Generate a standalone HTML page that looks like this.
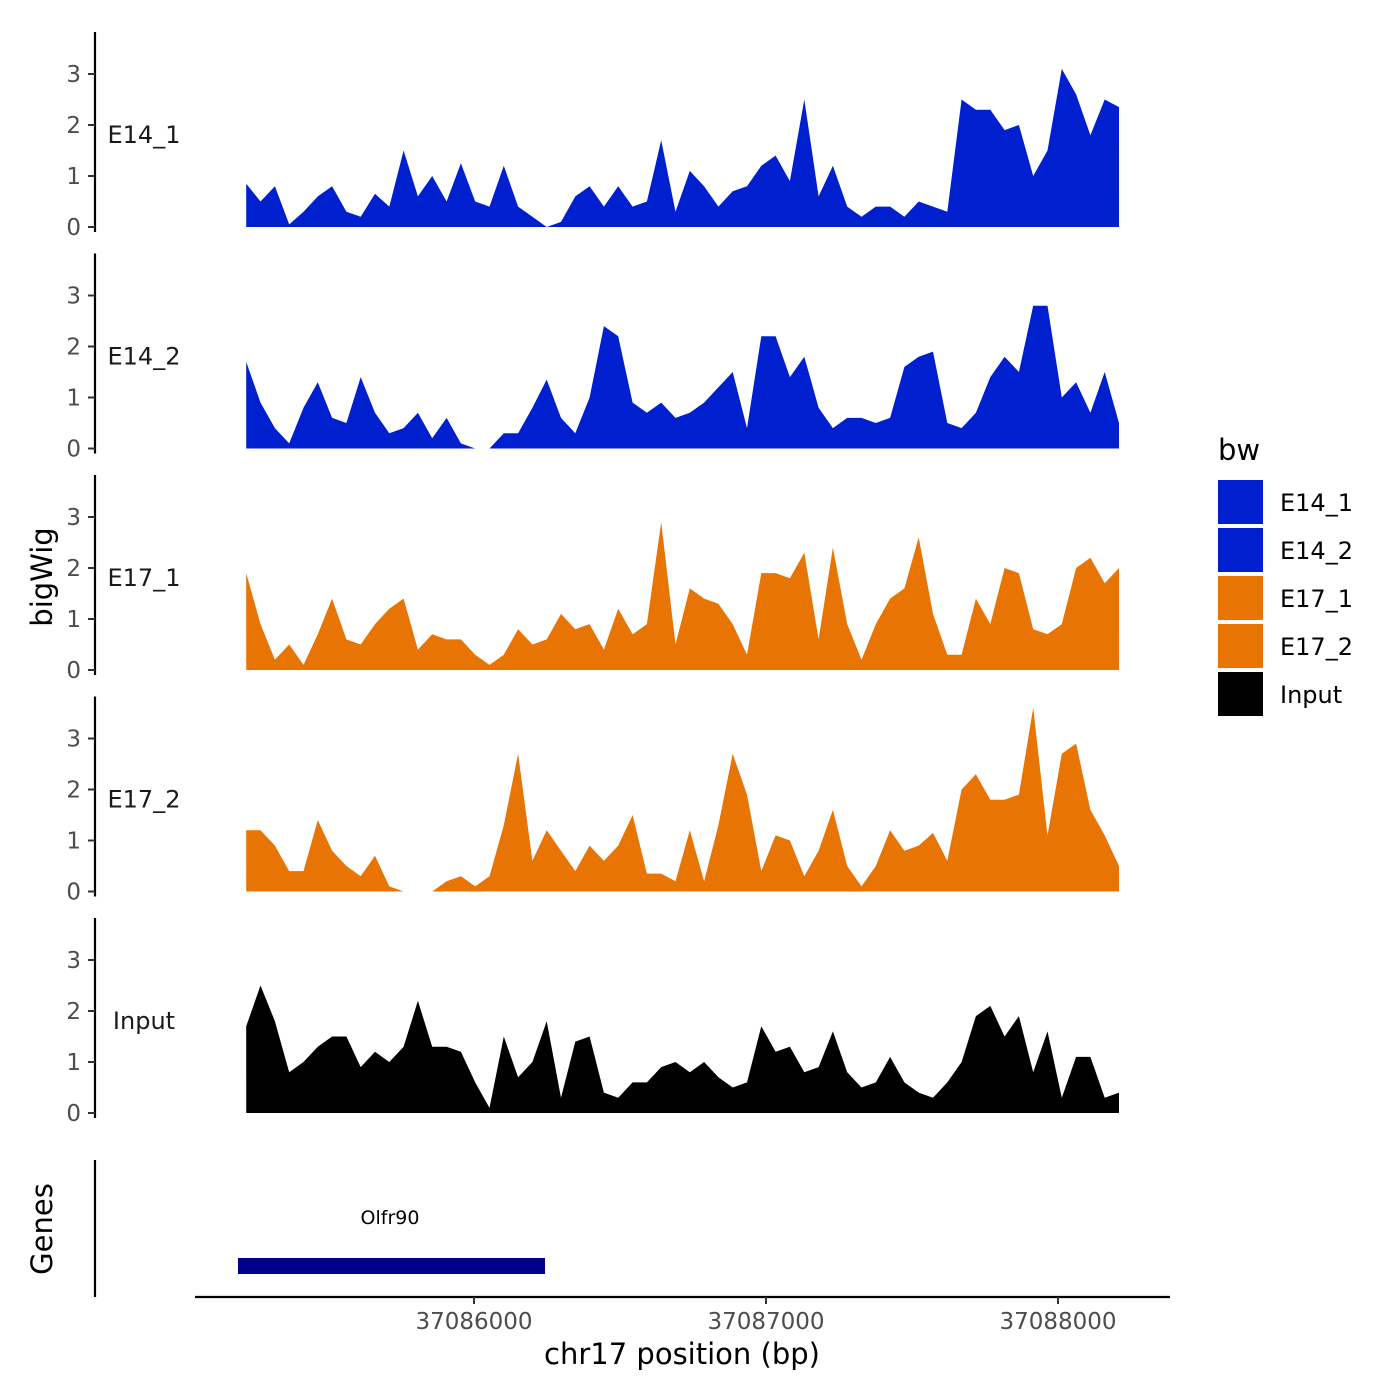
<!DOCTYPE html>
<html><head><meta charset="utf-8"><style>body{margin:0;background:#fff}svg{display:block;font-family:"DejaVu Sans","Liberation Sans",sans-serif}</style></head>
<body>
<svg id="chart" width="1400" height="1400" viewBox="0 0 1400 1400" xmlns="http://www.w3.org/2000/svg">
<rect width="1400" height="1400" fill="#fff"/>
<g id="tracks"></g>
<text x="52" y="577" transform="rotate(-90 52 577)" text-anchor="middle" font-size="29" fill="#000">bigWig</text>
<text x="52" y="1229" transform="rotate(-90 52 1229)" text-anchor="middle" font-size="29" fill="#000">Genes</text>
<line x1="95" y1="1160" x2="95" y2="1297" stroke="#000" stroke-width="2.2"/>
<line x1="195" y1="1297" x2="1170" y2="1297" stroke="#000" stroke-width="2.2"/>
<rect x="238" y="1258" width="307" height="16" fill="#00008B"/>
<text x="390" y="1224" text-anchor="middle" font-size="19" fill="#000">Olfr90</text>
<g id="xaxis"></g>
<text x="682" y="1364" text-anchor="middle" font-size="29" fill="#000">chr17 position (bp)</text>
<g>
<text x="1218" y="460" font-size="29" fill="#000">bw</text>
<g id="legend"></g>
</g>
</svg>
<script>
const positions = [];
for (let i = 0; i < 62; i++) positions.push(37085220 + 49 * i);
const seriesNames = ["E14_1","E14_2","E17_1","E17_2","Input"];
const seriesColors = ["#0020D0","#0020D0","#E87404","#E87404","#000000"];
const e14_1 = [0.85,0.5,0.8,0.05,0.3,0.6,0.8,0.3,0.2,0.65,0.4,1.5,0.6,1.0,0.5,1.25,0.5,0.4,1.2,0.4,0.2,0,0.1,0.6,0.8,0.4,0.8,0.4,0.5,1.7,0.3,1.1,0.8,0.4,0.7,0.8,1.2,1.4,0.9,2.5,0.6,1.2,0.4,0.2,0.4,0.4,0.2,0.5,0.4,0.3,2.5,2.3,2.3,1.9,2.0,1.0,1.5,3.1,2.6,1.8,2.5,2.35];
const e14_2 = [1.7,0.9,0.4,0.1,0.8,1.3,0.6,0.5,1.4,0.7,0.3,0.4,0.7,0.2,0.6,0.1,0,0,0.3,0.3,0.8,1.35,0.6,0.3,1.0,2.4,2.2,0.9,0.7,0.9,0.6,0.7,0.9,1.2,1.5,0.4,2.2,2.2,1.4,1.8,0.8,0.4,0.6,0.6,0.5,0.6,1.6,1.8,1.9,0.5,0.4,0.7,1.4,1.8,1.5,2.8,2.8,1.0,1.3,0.7,1.5,0.5];
const e17_1 = [1.9,0.9,0.2,0.5,0.1,0.7,1.4,0.6,0.5,0.9,1.2,1.4,0.4,0.7,0.6,0.6,0.3,0.1,0.3,0.8,0.5,0.6,1.1,0.8,0.9,0.4,1.2,0.7,0.9,2.9,0.5,1.6,1.4,1.3,0.9,0.3,1.9,1.9,1.8,2.3,0.6,2.4,0.9,0.2,0.9,1.4,1.6,2.6,1.1,0.3,0.3,1.4,0.9,2.0,1.9,0.8,0.7,0.9,2.0,2.2,1.7,2.0];
const e17_2 = [1.2,1.2,0.9,0.4,0.4,1.4,0.8,0.5,0.3,0.7,0.1,0,0,0,0.2,0.3,0.1,0.3,1.3,2.7,0.6,1.2,0.8,0.4,0.9,0.6,0.9,1.5,0.35,0.35,0.2,1.2,0.2,1.3,2.7,1.9,0.4,1.1,1.0,0.3,0.8,1.6,0.5,0.1,0.5,1.2,0.8,0.9,1.15,0.6,2.0,2.3,1.8,1.8,1.9,3.6,1.1,2.7,2.9,1.6,1.1,0.5];
const input = [1.7,2.5,1.8,0.8,1.0,1.3,1.5,1.5,0.9,1.2,1.0,1.3,2.2,1.3,1.3,1.2,0.6,0.1,1.5,0.7,1.0,1.8,0.3,1.4,1.5,0.4,0.3,0.6,0.6,0.9,1.0,0.8,1.0,0.7,0.5,0.6,1.7,1.2,1.3,0.8,0.9,1.6,0.8,0.5,0.6,1.1,0.6,0.4,0.3,0.6,1.0,1.9,2.1,1.5,1.9,0.8,1.6,0.3,1.1,1.1,0.3,0.4];
const seriesValues = [e14_1,e14_2,e17_1,e17_2,input];
const yTicks = [0,1,2,3];
const xTicks = [37086000,37087000,37088000];

const NS = "http://www.w3.org/2000/svg";
function xs(bp){ return 474 + (bp - 37086000) * 0.292; }
function ys(v, k){ return 227 + 221.5 * k - v * 51; }
function mk(tag, attrs, parent){ const e = document.createElementNS(NS, tag); for (const a in attrs) e.setAttribute(a, attrs[a]); parent.appendChild(e); return e; }

const tracks = document.getElementById("tracks");
seriesNames.forEach((name, k) => {
  const g = mk("g", {}, tracks);
  
  
  const top = 32 + 221.5 * k;
  const ax = mk("line", {x1:95, y1:top, x2:95, y2:top + 200, stroke:"#000", "stroke-width":2.2}, g);
  
  
  yTicks.forEach(t => {
    const y = ys(t, k);
    const tl = mk("line", {x1:88, y1:y, x2:95, y2:y, stroke:"#333", "stroke-width":2}, g);
    
    
    const tx = mk("text", {x:81, y:y + 8, "text-anchor":"end", "font-size":23, fill:"#4d4d4d"}, g);
    tx.textContent = t;
    
    
  });
  const lab = mk("text", {x:144, y:143 + 221.5 * k, "text-anchor":"middle", "font-size":24, fill:"#1a1a1a"}, g);
  lab.textContent = name;
  
  
  const vals = seriesValues[k];
  let d = "M" + xs(positions[0]) + "," + ys(0, k);
  vals.forEach((v, i) => { d += " L" + xs(positions[i]).toFixed(1) + "," + ys(v, k).toFixed(1); });
  d += " L" + xs(positions[positions.length - 1]) + "," + ys(0, k) + " Z";
  const p = mk("path", {d:d, fill:seriesColors[k]}, g);
  
  
});

const xaxis = document.getElementById("xaxis");
xTicks.forEach(t => {
  const x = xs(t);
  const l = mk("line", {x1:x, y1:1297, x2:x, y2:1304, stroke:"#333", "stroke-width":2}, xaxis);
  
  
  const tx = mk("text", {x:x, y:1329, "text-anchor":"middle", "font-size":23, fill:"#4d4d4d"}, xaxis);
  tx.textContent = t;
  
  
});

const legend = document.getElementById("legend");
seriesNames.forEach((name, k) => {
  const y = 480 + 48 * k;
  const r = mk("rect", {x:1218, y:y, width:45, height:44, fill:seriesColors[k]}, legend);
  
  
  const t = mk("text", {x:1280, y:y + 31, "font-size":24, fill:"#000"}, legend);
  t.textContent = name;
  
  
});
</script>
</body></html>
